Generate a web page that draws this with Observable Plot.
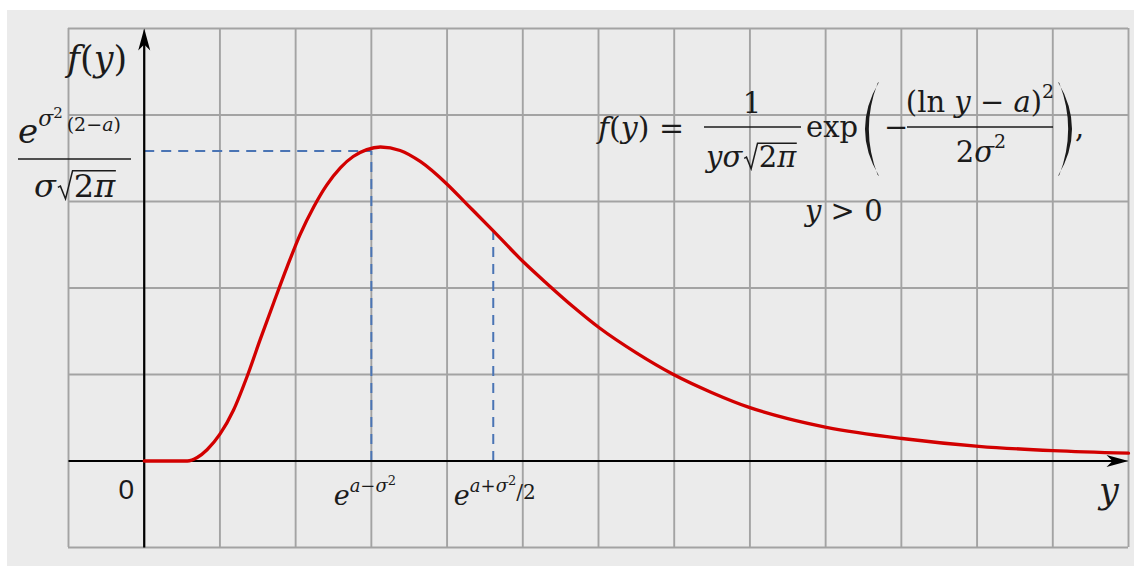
<!DOCTYPE html>
<html>
<head>
<meta charset="utf-8">
<script src="https://cdn.jsdelivr.net/npm/d3@7"></script>
<script src="https://cdn.jsdelivr.net/npm/@observablehq/plot@0.6"></script>
<style>
  html, body { margin: 0; padding: 0; background: #ffffff; }
  #wrap { position: relative; width: 1134px; height: 566px; overflow: hidden; }
  #bg { position: absolute; left: 7px; top: 10px; right: 0; bottom: 0; background: #ebebeb; }
  #chart { position: absolute; left: 0; top: 0; }
</style>
</head>
<body>
<div id="wrap"><div id="bg"></div><div id="chart"></div></div>
<script>
// Lognormal density f(y), sampled along the curve (x and y in grid-cell units)
const curveX = [0, 0.57, 0.70, 0.83, 1.00, 1.18, 1.36, 1.53, 1.71, 1.89, 2.06, 2.24, 2.41, 2.59, 2.76, 2.94, 3.12, 3.38, 3.65, 4.00, 4.26, 4.61, 5.01, 5.32, 5.67, 6.01, 6.50, 6.99, 7.50, 7.99, 8.50, 9.01, 10.01, 11.02, 12.00, 13.00];
const curveY = [0, 0, 0.04, 0.13, 0.31, 0.59, 0.98, 1.40, 1.83, 2.25, 2.62, 2.94, 3.19, 3.39, 3.52, 3.60, 3.63, 3.59, 3.46, 3.20, 2.97, 2.66, 2.30, 2.05, 1.78, 1.54, 1.25, 1.00, 0.79, 0.62, 0.49, 0.39, 0.26, 0.17, 0.12, 0.09];

// Mode e^(a-σ²) with the peak height, and mean e^(a+σ²/2) with its density
const modeX = 3.0;
const modeY = 3.585;
const meanX = 4.61;
const meanY = 2.66;

// Grid lines
const gridXValues = [-1, 0, 1, 2, 3, 4, 5, 6, 7, 8, 9, 10, 11, 12, 13];
const gridYValues = [-1, 0, 1, 2, 3, 4, 5];

const curve = curveX.map((x, i) => ({x, y: curveY[i]}));
const guides = [
  {x1: 0, y1: modeY, x2: modeX, y2: modeY},
  {x1: modeX, y1: 0, x2: modeX, y2: modeY},
  {x1: meanX, y1: 0, x2: meanX, y2: meanY}
];
const axes = [
  {x1: -1, y1: 0, x2: 12.9, y2: 0},
  {x1: 0, y1: -1, x2: 0, y2: 4.9}
];
const axisTips = [
  {x: 13, y: 0, angle: 90},
  {x: 0, y: 5, angle: 0}
];

const INK = "#1b1b1b";
const SERIF = "'DejaVu Serif', 'Liberation Serif', serif";
const SANS = "'Liberation Sans', Arial, sans-serif";

// Slim dart arrowhead, tip at the origin, pointing up
const dart = {
  draw(context) {
    context.moveTo(0, 0);
    context.lineTo(-6, 22);
    context.lineTo(0, 16);
    context.lineTo(6, 22);
    context.closePath();
  }
};

const plot = Plot.plot({
  width: 1134,
  height: 566,
  marginLeft: 68,
  marginRight: 6,
  marginTop: 28,
  marginBottom: 19,
  x: {domain: [-1, 13], axis: null},
  y: {domain: [-1, 5], axis: null},
  style: {background: "transparent", overflow: "visible"},
  marks: [
    Plot.ruleX(gridXValues, {stroke: "#a3a3a3", strokeWidth: 1.9}),
    Plot.ruleY(gridYValues, {stroke: "#a3a3a3", strokeWidth: 1.9}),
    Plot.link(guides, {x1: "x1", y1: "y1", x2: "x2", y2: "y2", stroke: "#4a74b4", strokeWidth: 2, strokeDasharray: "10,7"}),
    Plot.link(axes, {x1: "x1", y1: "y1", x2: "x2", y2: "y2", stroke: "#000", strokeWidth: 2.2}),
    Plot.dot(axisTips, {x: "x", y: "y", rotate: "angle", symbol: dart, fill: "#000", stroke: "none"}),
    Plot.line(curve, {x: "x", y: "y", stroke: "#d20000", strokeWidth: 3.3, curve: "monotone-x"})
  ]
});
document.getElementById("chart").appendChild(plot);

const X = plot.scale("x");
const svg = d3.select(plot);
const g = svg.append("g").attr("fill", INK);

// Text made of runs; shift is the baseline offset of a run (negative = raised)
function label(x, y, segs, {anchor = "start", size = 30, family = SERIF} = {}) {
  const t = g.append("text").attr("x", x).attr("y", y).attr("text-anchor", anchor)
    .attr("font-family", family).attr("font-size", size).attr("fill", INK);
  let cur = 0;
  for (const s of segs) {
    const sh = s.shift || 0;
    const ts = t.append("tspan").text(s.t);
    if (sh !== cur) { ts.attr("dy", sh - cur); cur = sh; }
    if (s.size) ts.attr("font-size", s.size);
    if (s.it) ts.attr("font-style", "italic");
    if (s.dx) ts.attr("dx", s.dx);
  }
  return t;
}
const width = t => t.node().getComputedTextLength();

function hbar(x1, x2, y, w = 1.6) {
  g.append("line").attr("x1", x1).attr("x2", x2).attr("y1", y).attr("y2", y)
    .attr("stroke", INK).attr("stroke-width", w);
}

// Radical sign with overbar drawn over the radicand text
function radical(x, y, s, segs) {
  const inner = label(x + 0.5 * s, y, segs, {size: s});
  const w = width(inner);
  const top = y - 0.82 * s;
  g.append("path")
    .attr("d", `M${x},${y - 0.30 * s} L${x + 0.08 * s},${y - 0.34 * s} L${x + 0.24 * s},${y + 0.06 * s} L${x + 0.46 * s},${top} L${x + 0.52 * s + w},${top}`)
    .attr("fill", "none").attr("stroke", INK).attr("stroke-width", 1.5).attr("stroke-linejoin", "miter");
  return x + 0.5 * s + w;
}

// Tall parenthesis as a filled crescent
function paren(x, yTop, yBot, open) {
  const k = open ? -1 : 1, m = (yTop + yBot) / 2;
  g.append("path")
    .attr("d", `M${x},${yTop} Q${x + k * 28},${m} ${x},${yBot} L${x + k * 1.3},${yBot - 1} Q${x + k * 19},${m} ${x + k * 1.3},${yTop + 1} Z`)
    .attr("fill", INK);
}

// Axis names and origin
label(67, 71, [{t: "f", it: true}, {t: "("}, {t: "y", it: true}, {t: ")"}], {size: 35});
label(1099, 503, [{t: "y", it: true}], {size: 35});
label(134, 499, [{t: "0"}], {size: 28, family: SANS, anchor: "end"});

// Peak height on the vertical axis
label(18, 143, [
  {t: "e", it: true},
  {t: "σ", it: true, size: 22, shift: -17},
  {t: "2", size: 15, shift: -25},
  {t: "(2−", size: 19, shift: -12, dx: 4},
  {t: "a", it: true, size: 19, shift: -12},
  {t: ")", size: 19, shift: -12}
], {size: 34});
hbar(18, 131, 159);
{
  const s = label(34, 197, [{t: "σ", it: true}], {size: 32});
  radical(34 + width(s) + 2, 197, 32, [{t: "2"}, {t: "π", it: true}]);
}

// Mode and mean labels under the horizontal axis
label(X.apply(modeX) - 6, 505, [
  {t: "e", it: true},
  {t: "a−σ", it: true, size: 18, shift: -13},
  {t: "2", size: 13, shift: -20}
], {size: 27, anchor: "middle"});
label(X.apply(meanX) + 2, 505, [
  {t: "e", it: true},
  {t: "a+σ", it: true, size: 18, shift: -13},
  {t: "2", size: 13, shift: -20},
  {t: "/2", size: 20, shift: -6}
], {size: 27, anchor: "middle"});

// Density formula
label(598, 138, [{t: "f", it: true}, {t: "("}, {t: "y", it: true}, {t: ") ="}], {size: 30});
hbar(704, 801, 127);
label(752, 113, [{t: "1"}], {size: 29, anchor: "middle"});
{
  const s = label(706, 167, [{t: "yσ", it: true}], {size: 29});
  radical(706 + width(s) + 2, 167, 29, [{t: "2"}, {t: "π", it: true}]);
}
label(806, 137, [{t: "exp"}], {size: 29});
paren(879, 82, 176, true);
label(884, 137, [{t: "−"}], {size: 29});
hbar(907, 1053, 127);
label(980, 112, [
  {t: "(ln "},
  {t: "y", it: true},
  {t: " − "},
  {t: "a", it: true},
  {t: ")"},
  {t: "2", size: 19, shift: -14}
], {size: 29, anchor: "middle"});
label(981, 162, [
  {t: "2"},
  {t: "σ", it: true},
  {t: "2", size: 19, shift: -14}
], {size: 29, anchor: "middle"});
paren(1058, 82, 176, false);
label(1075, 137, [{t: ","}], {size: 29});
label(805, 221, [{t: "y", it: true}, {t: " > 0"}], {size: 29});
</script>
</body>
</html>
